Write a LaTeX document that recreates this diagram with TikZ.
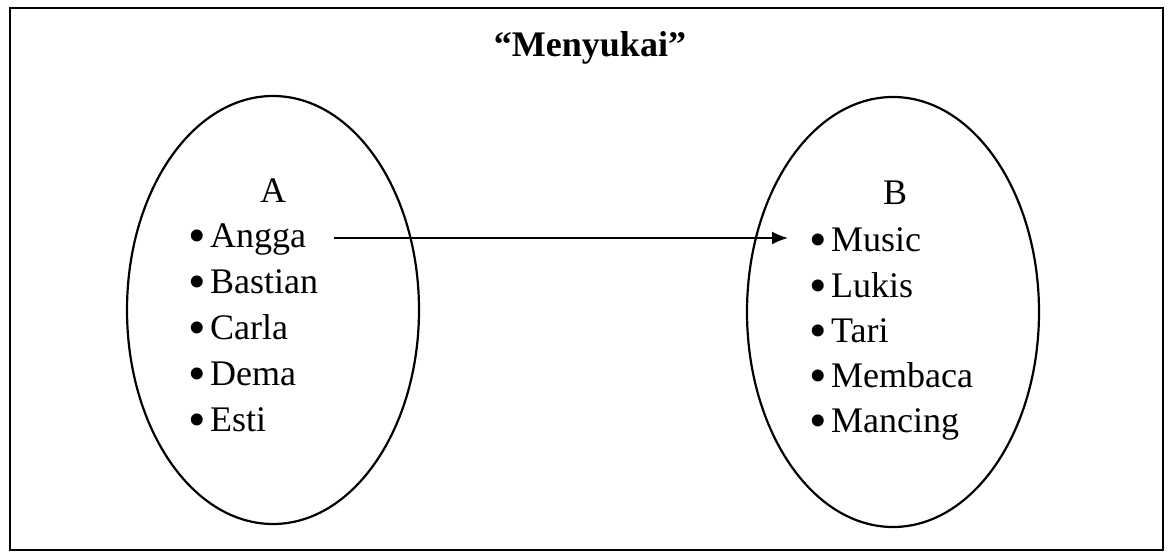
\documentclass[tikz,border=0pt]{standalone}
\usepackage{fontspec}
\setmainfont{Liberation Serif}
\usetikzlibrary{arrows.meta}

\newcommand{\bigdot}{\raisebox{-5pt}[0pt][0pt]{\fontsize{50}{50}\selectfont\textbullet}\hspace{4.5pt}}

\tikzset{
  item/.style={anchor=base west, inner sep=0pt, text height=22pt, text depth=2pt,
    font=\fontsize{36}{40}\selectfont},
  setlabel/.style={anchor=base, inner sep=0pt, font=\fontsize{36}{40}\selectfont},
}

\begin{document}
\begin{tikzpicture}[x=1pt, y=1pt]

  \useasboundingbox (0, 0) rectangle (1169, 556);

  \draw[line width=2.5pt] (10, 6) rectangle (1163, 548);

  \node[anchor=base, inner sep=0pt, font=\fontsize{36}{40}\selectfont\bfseries]
    (title) at (590, 499) {“Menyukai”};

  % the two sets
  \draw[line width=2.2pt] (273, 246) ellipse [x radius=146pt, y radius=214pt];
  \draw[line width=2.2pt] (893, 244) ellipse [x radius=146pt, y radius=215pt];

  \node[setlabel] (A) at (273, 353) {A};
  \node[setlabel] (B) at (895, 351) {B};

  \foreach \name [count=\i from 1] in {Angga, Bastian, Carla, Dema, Esti}
    \node[item] (a\i) at (188, {308 - 46*(\i-1)}) {\bigdot\name};

  \foreach \name [count=\i from 1] in {Music, Lukis, Tari, Membaca, Mancing}
    \node[item] (b\i) at (809, {304 - 45.25*(\i-1)}) {\bigdot\name};

  % Angga -> Music
  \draw[line width=1.8pt, -{Latex[length=16pt, width=13pt]},
    shorten <=28pt, shorten >=21pt] (a1.east) -- (a1.east -| b1.west);

\end{tikzpicture}
\end{document}
